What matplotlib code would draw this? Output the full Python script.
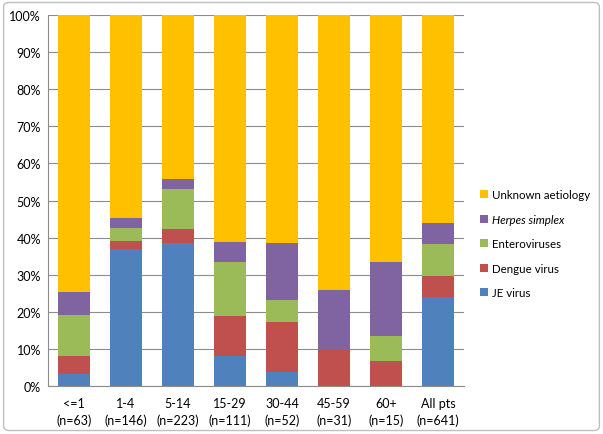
import matplotlib
matplotlib.use("Agg")
import matplotlib.pyplot as plt
from matplotlib.patches import Patch, FancyBboxPatch
import numpy as np

plt.rcParams['font.family'] = ['Lato', 'DejaVu Sans']

categories = ["<=1\n(n=63)", "1-4\n(n=146)", "5-14\n(n=223)", "15-29\n(n=111)",
              "30-44\n(n=52)", "45-59\n(n=31)", "60+\n(n=15)", "All pts\n(n=641)"]
je_virus = [3.2, 37.0, 38.6, 8.1, 3.8, 0.0, 0.0, 23.9]
dengue = [4.8, 2.1, 3.6, 10.8, 13.5, 9.7, 6.7, 5.8]
enterovirus = [11.1, 3.4, 10.8, 14.4, 5.8, 0.0, 6.7, 8.6]
herpes = [6.3, 2.7, 2.7, 5.4, 15.4, 16.1, 20.0, 5.6]
unknown = [74.6, 54.8, 44.4, 61.3, 61.5, 74.2, 66.7, 56.1]

series = [
    ("JE virus", je_virus, "#4F81BD"),
    ("Dengue virus", dengue, "#C0504D"),
    ("Enteroviruses", enterovirus, "#9BBB59"),
    ("Herpes simplex", herpes, "#8064A2"),
    ("Unknown aetiology", unknown, "#FFC000"),
]

fig = plt.figure(figsize=(6.03, 4.35), dpi=100)
ax = fig.add_axes([0.0796, 0.1103, 0.69, 0.8529])

x = np.arange(len(categories))
bottom = np.zeros(len(categories))
handles = []
for name, vals, col in series:
    v = np.array(vals)
    ax.bar(x, v, bottom=bottom, width=0.625, color=col, zorder=3)
    bottom += v
    handles.append(Patch(facecolor=col, label=name))

ax.set_xlim(-0.5, len(categories) - 0.5)
ax.set_ylim(0, 100)
ax.set_yticks(np.arange(0, 101, 10))
ax.set_yticklabels([f"{t}%" for t in range(0, 101, 10)], fontsize=9)
ax.set_xticks(x)
ax.set_xticklabels(categories, fontsize=9, linespacing=1.45)
ax.yaxis.grid(True, color="#8C8C8C", linewidth=0.8, zorder=0)
for s in ["top", "right"]:
    ax.spines[s].set_visible(False)
ax.spines["left"].set_color("#8C8C8C")
ax.spines["bottom"].set_color("#8C8C8C")
ax.tick_params(axis="both", length=0, pad=5)
ax.tick_params(axis="x", pad=8)

leg = fig.legend(handles=handles[::-1], loc="upper left", bbox_to_anchor=(0.778, 0.586),
                 frameon=False, fontsize=8.3, handlelength=0.7, handleheight=0.7,
                 handletextpad=0.4, labelspacing=1.16)
for t in leg.get_texts():
    if t.get_text() == "Herpes simplex":
        t.set_style("italic")

border = FancyBboxPatch((0.006, 0.008), 0.988, 0.984, boxstyle="round,pad=0,rounding_size=0.01",
                        transform=fig.transFigure, facecolor="none", edgecolor="#BFBFBF",
                        linewidth=1.0)
fig.patches.append(border)

fig.savefig("out.png", dpi=100)
